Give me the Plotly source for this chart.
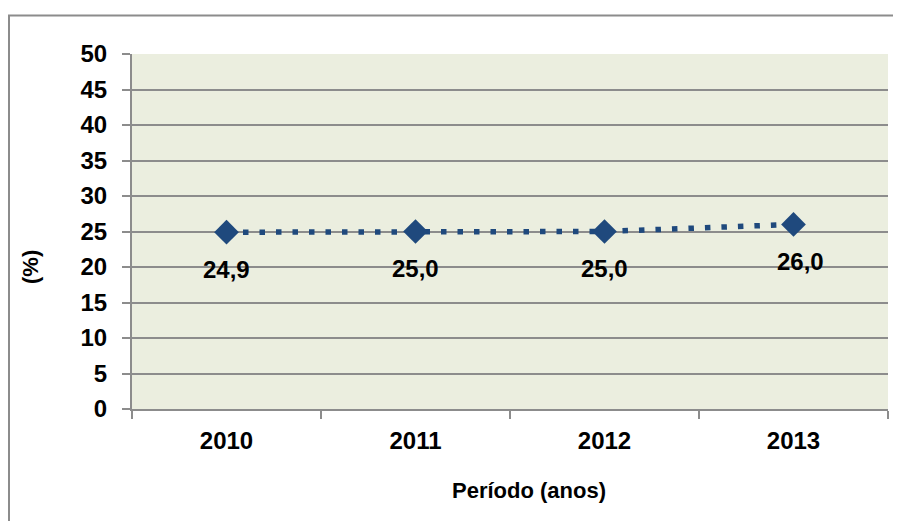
import plotly.graph_objects as go

years = ["2010", "2011", "2012", "2013"]
values = [24.9, 25.0, 25.0, 26.0]
labels = ["24,9", "25,0", "25,0", "26,0"]
label_xshift = [0, 0, 0, 7]
y_ticks = list(range(0, 55, 5))

FONT = "Liberation Sans"
BLUE = "#1f497d"
GRID = "#8c8c8c"

# figure is placed at (8, 8) in the page by the body margin
W, H = 893, 513
L, T, R, B = 124, 46, 13, 112
PW, PH = W - L - R, H - T - B

fig = go.Figure()
fig.add_trace(go.Scatter(
    x=years, y=values, mode="lines+markers",
    line=dict(color=BLUE, width=5.5, dash="5.5px,11px"),
    marker=dict(symbol="diamond", size=19, color=BLUE),
    showlegend=False, hoverinfo="skip",
))

for i, (v, lab, xs) in enumerate(zip(values, labels, label_xshift)):
    fig.add_annotation(x=i, y=v, text=f"<b>{lab}</b>", showarrow=False,
                       xshift=xs, yshift=-37,
                       font=dict(family=FONT, size=24, color="black"))

fig.add_annotation(xref="paper", yref="paper", x=(521 - L) / PW, y=(T + PH - 483) / PH,
                   xanchor="center", yanchor="middle",
                   text="<b>Período (anos)</b>", showarrow=False,
                   font=dict(family=FONT, size=22, color="black"))
fig.add_annotation(xref="paper", yref="paper", x=(22 - L) / PW, y=(T + PH - 259) / PH,
                   xanchor="center", yanchor="middle",
                   text="<b>(%)</b>", textangle=-90, showarrow=False,
                   font=dict(family=FONT, size=22, color="black"))

# outer chart border
fig.add_shape(type="rect", xref="paper", yref="paper",
              x0=(1 - L) / PW, x1=1.2, y0=-0.6, y1=(T + PH - 7.5) / PH,
              line=dict(color=GRID, width=2), fillcolor="rgba(0,0,0,0)", layer="below")

fig.update_layout(
    width=W, height=H,
    margin=dict(l=L, r=R, t=T, b=B),
    paper_bgcolor="white", plot_bgcolor="#ebeedf",
    font=dict(family=FONT, color="black"),
)
fig.update_xaxes(
    type="category", range=[-0.5, 3.5], tickson="boundaries", showgrid=False,
    showline=True, linecolor=GRID, linewidth=2,
    ticks="outside", ticklen=8, tickwidth=1.5, tickcolor=GRID,
    tickvals=years, ticktext=[f"<b>{y}</b>" for y in years],
    tickfont=dict(family=FONT, size=24, color="black"),
    ticklabelstandoff=9, tickangle=0,
)
fig.update_yaxes(
    range=[0, 50], tickvals=y_ticks, ticktext=[f"<b>{t}</b>" for t in y_ticks],
    showgrid=True, gridcolor=GRID, gridwidth=2,
    showline=True, linecolor=GRID, linewidth=2, zeroline=False,
    ticks="outside", ticklen=8, tickwidth=2, tickcolor=GRID,
    tickfont=dict(family=FONT, size=24, color="black"),
    ticklabelstandoff=10,
)
fig.write_html("out.html")
